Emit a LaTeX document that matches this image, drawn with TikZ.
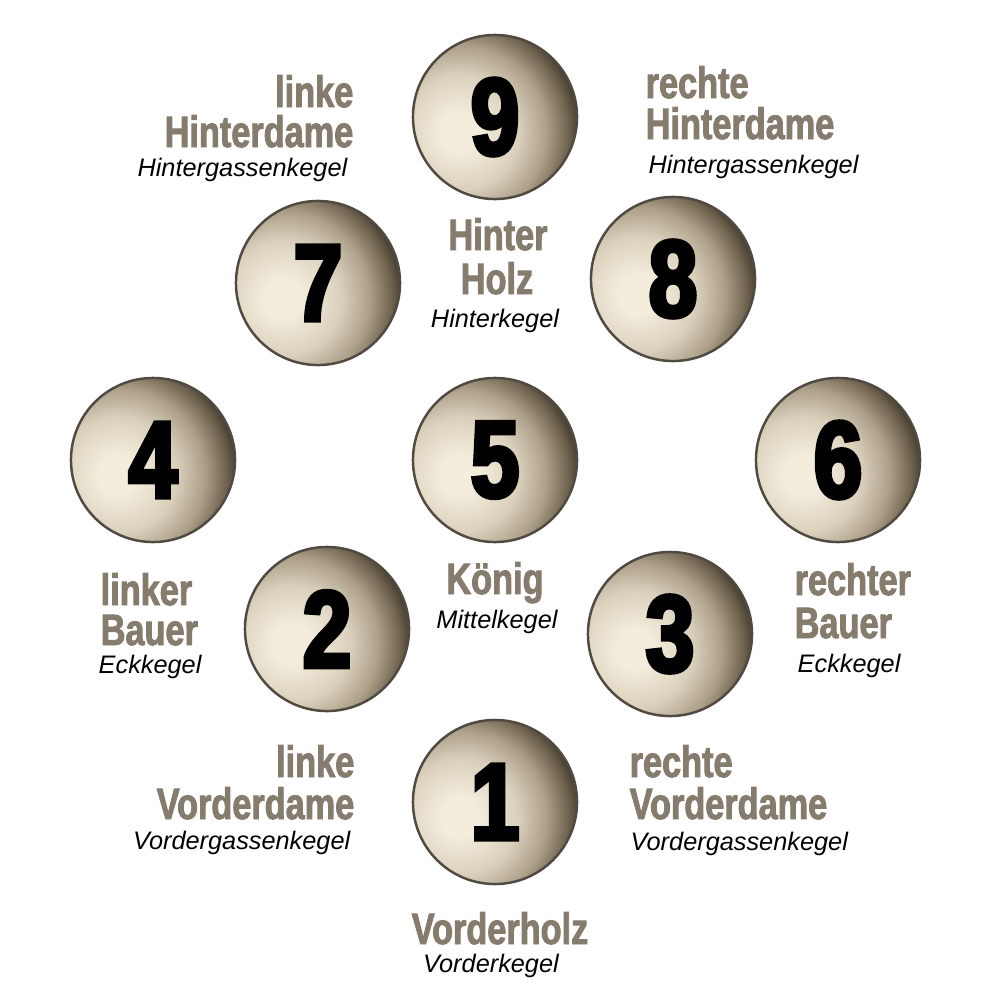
\documentclass[tikz,border=0pt]{standalone}
\usepackage{fontspec}
\setmainfont{Liberation Sans}
\newfontfamily\headFont[FakeStretch=0.78,FakeBold=2]{Liberation Sans}
\newfontfamily\digitFont[FakeStretch=0.8,FakeBold=4]{Liberation Sans}
\usetikzlibrary{positioning}
\definecolor{labelColor}{RGB}{133,124,110}
\definecolor{pinLight}{RGB}{244,237,220}
\definecolor{pinSoft}{RGB}{218,208,188}
\definecolor{pinMid}{RGB}{172,160,137}
\definecolor{pinDark}{RGB}{112,100,80}
\definecolor{pinDeep}{RGB}{68,60,46}
\definecolor{pinEdge}{RGB}{80,74,66}
\pgfdeclareradialshading{pinShade}{\pgfpointorigin}{color(0bp)=(pinLight); color(4bp)=(pinLight); color(12bp)=(pinSoft); color(18bp)=(pinMid); color(22.5bp)=(pinDark); color(25bp)=(pinDeep); color(50bp)=(pinDeep)}
\tikzstyle{pinStyle} = [circle, minimum size=1.64cm, inner sep=0pt, draw=pinEdge, line width=.7pt,
  path picture={\shade [shading=pinShade] ([shift={(-35,15)}]path picture bounding box.center) circle [radius=1.2cm];},
  font=\digitFont\bfseries\fontsize{31}{31}\selectfont]
\tikzstyle{headLabel} = [inner sep=0pt, text=labelColor, font=\headFont\bfseries\fontsize{12.5}{13}\selectfont]
\tikzstyle{subLabel} = [inner sep=0pt, font=\itshape\fontsize{7.2}{8}\selectfont]
\newcommand{\pin}[3]{\node [pinStyle] (pin#1) at (#2,#3) {#1};}

\begin{document}
\begin{tikzpicture}[x=0.01cm, y=-0.01cm]
  \useasboundingbox (0,0) rectangle (1000,1000);
  \pin{9}{495}{117}
  \pin{7}{318}{283}
  \pin{8}{673}{279}
  \pin{4}{153}{460}
  \pin{5}{495}{460}
  \pin{6}{838}{460}
  \pin{2}{327}{629}
  \pin{3}{670}{634}
  \pin{1}{495}{802}

  % hintere Reihe
  \node [headLabel, anchor=base east] (linkeHD) at (354,107) {linke};
  \node [headLabel, anchor=base east] (linkeHDname) at (354,147) {Hinterdame};
  \node [subLabel, anchor=base east] (linkeHDsub) at (348,176) {Hintergassenkegel};
  \node [headLabel, anchor=base west] (rechteHD) at (645,98) {rechte};
  \node [headLabel, anchor=base west] (rechteHDname) at (645,139) {Hinterdame};
  \node [subLabel, anchor=base west] (rechteHDsub) at (648,173) {Hintergassenkegel};
  \node [headLabel, anchor=base] (hinterHolz) at (498,250) {Hinter};
  \node [headLabel, anchor=base] (hinterHolzname) at (497,294) {Holz};
  \node [subLabel, anchor=base] (hinterHolzsub) at (495,327) {Hinterkegel};

  % mittlere Reihe
  \node [headLabel, anchor=base] (koenig) at (495,594) {König};
  \node [subLabel, anchor=base] (koenigsub) at (497,628) {Mittelkegel};
  \node [headLabel, anchor=base west] (linkerB) at (100,605) {linker};
  \node [headLabel, anchor=base west] (linkerBname) at (100,645) {Bauer};
  \node [subLabel, anchor=base west] (linkerBsub) at (98,673) {Eckkegel};
  \node [headLabel, anchor=base west] (rechterB) at (794,595) {rechter};
  \node [headLabel, anchor=base west] (rechterBname) at (794,638) {Bauer};
  \node [subLabel, anchor=base west] (rechterBsub) at (797,672) {Eckkegel};

  % vordere Reihe
  \node [headLabel, anchor=base east] (linkeVD) at (355,777) {linke};
  \node [headLabel, anchor=base east] (linkeVDname) at (355,819) {Vorderdame};
  \node [subLabel, anchor=base east] (linkeVDsub) at (351,849) {Vordergassenkegel};
  \node [headLabel, anchor=base west] (rechteVD) at (629,777) {rechte};
  \node [headLabel, anchor=base west] (rechteVDname) at (629,819) {Vorderdame};
  \node [subLabel, anchor=base west] (rechteVDsub) at (630,850) {Vordergassenkegel};
  \node [headLabel, anchor=base] (vorderHolz) at (500,944) {Vorderholz};
  \node [subLabel, anchor=base] (vorderHolzsub) at (491,972) {Vorderkegel};
\end{tikzpicture}
\end{document}
